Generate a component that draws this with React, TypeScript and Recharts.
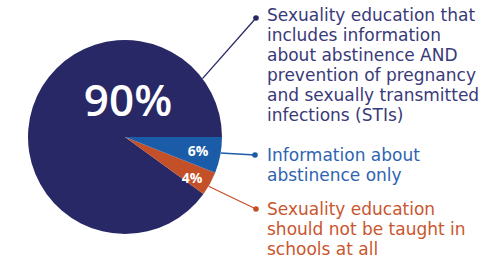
import { PieChart, Pie, Cell } from 'recharts'

document.body.style.margin = '0'

const CATEGORIES = [
  'Sexuality education that includes information about abstinence AND prevention of pregnancy and sexually transmitted infections (STIs)',
  'Sexuality education should not be taught in schools at all',
  'Information about abstinence only',
]
const SHARES = [90, 4, 6]
const LABEL_LINES = [
  ['Sexuality education that', 'includes information', 'about abstinence AND', 'prevention of pregnancy', 'and sexually transmitted', 'infections (STIs)'],
  ['Sexuality education', 'should not be taught in', 'schools at all'],
  ['Information about', 'abstinence only'],
]

const SLICE_COLOURS = ['#282866', '#c4502a', '#1b5ca8']
const TEXT_COLOURS = ['#3a3a78', '#c9562e', '#2e64b0']

// where each callout sits (anchor angle on the rim, dot, text block)
const CALLOUTS = [
  { rimAngle: 37, dotX: 256, dotY: 18, textY: 15, pctDx: 3, pctDy: -38, pctSize: 44, pctWeight: 600 },
  { rimAngle: -30.5, dotX: 256, dotY: 209, textY: 209, pctDx: 67, pctDy: 40, pctSize: 14, pctWeight: 700 },
  { rimAngle: -9.5, dotX: 255, dotY: 155, textY: 155, pctDx: 73, pctDy: 13, pctSize: 14, pctWeight: 700 },
]

const data = CATEGORIES.map((name, i) => ({ name, value: SHARES[i] }))

const FONT = '"DejaVu Sans", sans-serif'
const PCT_FONT = '"Open Sans", sans-serif'
const RAD = Math.PI / 180

function renderLabel(props: any) {
  const { cx, cy, outerRadius, index, value } = props
  const c = CALLOUTS[index]
  const sx = cx + outerRadius * Math.cos(-c.rimAngle * RAD)
  const sy = cy + outerRadius * Math.sin(-c.rimAngle * RAD)
  const lines = LABEL_LINES[index]
  return (
    <g key={`lbl-${index}`}>
      <text x={cx + c.pctDx} y={cy + c.pctDy} fill="#fff" fontFamily={PCT_FONT} fontWeight={c.pctWeight}
        fontSize={c.pctSize} textAnchor="middle" dominantBaseline="central">
        {value}%
      </text>
      <line x1={sx} y1={sy} x2={c.dotX} y2={c.dotY} stroke={SLICE_COLOURS[index]} strokeWidth={1.3} />
      <circle cx={c.dotX} cy={c.dotY} r={2.8} fill={SLICE_COLOURS[index]} />
      <text x={267} y={c.textY} fill={TEXT_COLOURS[index]} fontFamily={FONT} fontSize={17}>
        {lines.map((l, j) => (
          <tspan key={j} x={267} y={c.textY + j * 20} dominantBaseline="central">{l}</tspan>
        ))}
      </text>
    </g>
  )
}

export default function App() {
  return (
    <PieChart width={502} height={267}>
      <Pie data={data} dataKey="value" cx={120} cy={132} outerRadius={97}
        startAngle={0} endAngle={360} stroke="none" labelLine={false}
        label={renderLabel} isAnimationActive={false}>
        {data.map((d, i) => <Cell key={d.name} fill={SLICE_COLOURS[i]} />)}
      </Pie>
    </PieChart>
  )
}
